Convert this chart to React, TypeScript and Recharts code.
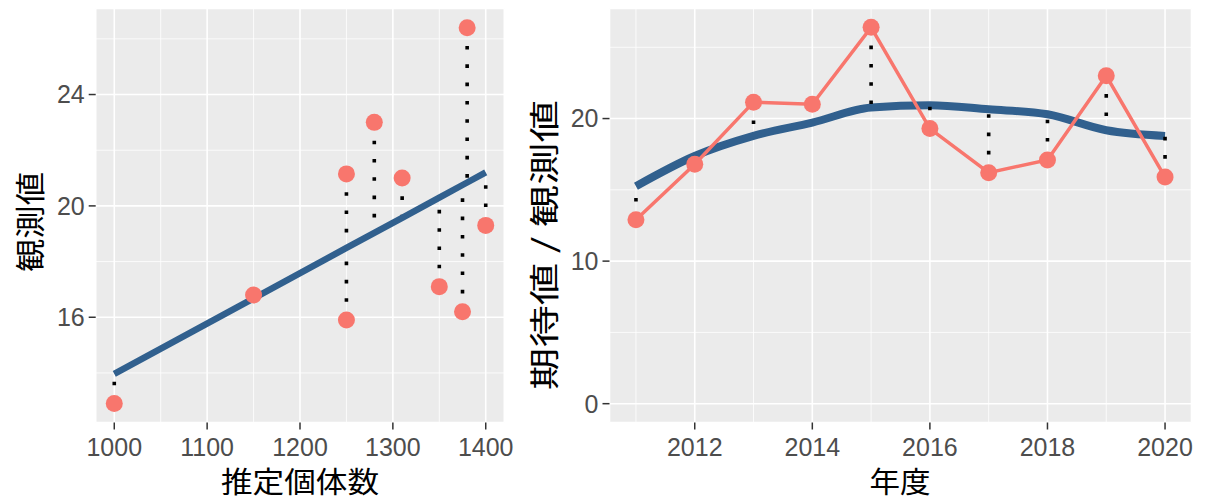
import {
  ComposedChart,
  Scatter,
  Line,
  XAxis,
  YAxis,
  CartesianGrid,
  ReferenceLine,
} from "recharts";

// 年度ごとの値
const years = [2011, 2012, 2013, 2014, 2015, 2016, 2017, 2018, 2019, 2020];
const estimated = [1000, 1150, 1250, 1310, 1380, 1400, 1375, 1350, 1280, 1250];
const observed = [12.9, 16.8, 21.15, 21.0, 26.4, 19.3, 16.2, 17.1, 23.0, 15.9];
// 左図: 回帰直線上の値
const fittedLm = [13.97, 16.68, 18.49, 19.57, 20.84, 21.2, 20.75, 20.3, 19.03, 18.49];
// 右図: 期待値
const expected = [15.25, 17.37, 18.78, 19.72, 20.77, 20.94, 20.65, 20.3, 19.18, 18.78];

const estTicks = [1000, 1100, 1200, 1300, 1400];
const estMinor = [1050, 1150, 1250, 1350];
const obsTicks = [16, 20, 24];
const obsMinor = [14, 18, 22, 26];
const yearTicks = [2012, 2014, 2016, 2018, 2020];
const yearMinor = [2011, 2013, 2015, 2017, 2019];
const valueTicks = [0, 10, 20];
const valueMinor = [5, 15, 25];

const RED = "#F8766D";
const BLUE = "#31608E";
const PANEL = "#EBEBEB";
const TICK_FONT = { fill: "#4D4D4D", fontSize: 25, fontFamily: "Liberation Sans, Arial, sans-serif" };
const JP = "'Noto Sans CJK JP', sans-serif";
const DOTS = { stroke: "#000", strokeWidth: 3.6, strokeDasharray: "3.6 14.7" };

const points = estimated.map((x, i) => ({ x, y: observed[i] }));
const lmLine = estimated
  .map((x, i) => ({ x, y: fittedLm[i] }))
  .sort((a, b) => a.x - b.x);
const yearly = years.map((year, i) => ({ year, obs: observed[i], exp: expected[i] }));

const Dot = (p: any) => <circle cx={p.cx} cy={p.cy} r={8.5} fill={RED} />;

const YTitle = ({ text, cx, cy, len }: { text: string; cx: number; cy: number; len?: number }) => (
  <text
    x={cx}
    y={cy}
    transform={`rotate(-90, ${cx}, ${cy})`}
    textAnchor="middle"
    dominantBaseline="central"
    fontSize={30}
    fontFamily={JP}
    fill="#000"
    textLength={len}
    lengthAdjust={len ? "spacingAndGlyphs" : undefined}
  >
    {text}
  </text>
);

const XTitle = ({ text, cx, cy, len }: { text: string; cx: number; cy: number; len: number }) => (
  <text
    x={cx}
    y={cy}
    textAnchor="middle"
    dominantBaseline="central"
    fontSize={29}
    fontFamily={JP}
    fill="#000"
    textLength={len}
    lengthAdjust="spacingAndGlyphs"
  >
    {text}
  </text>
);

function LeftPanel() {
  return (
    <div style={{ position: "absolute", left: 0, top: 0 }}>
      <ComposedChart width={520} height={501} margin={{ top: 8.5, right: 15.7, bottom: 0, left: 0 }}>
        <CartesianGrid fill={PANEL} stroke="#fff" strokeWidth={1.6} />
        <CartesianGrid
          horizontalValues={obsMinor}
          verticalValues={estMinor}
          stroke="#fff"
          strokeWidth={0.8}
        />
        <XAxis
          type="number"
          dataKey="x"
          domain={[980, 1420]}
          ticks={estTicks}
          allowDataOverflow
          axisLine={false}
          tickSize={7}
          tickMargin={9}
          tickLine={{ stroke: "#333", strokeWidth: 1.5 }}
          tick={TICK_FONT}
          height={78.5}
          label={<XTitle text="推定個体数" cx={300} cy={480} len={158} />}
        />
        <YAxis
          type="number"
          dataKey="y"
          domain={[12.22, 27.09]}
          ticks={obsTicks}
          allowDataOverflow
          axisLine={false}
          tickSize={7}
          tickMargin={4}
          tickLine={{ stroke: "#333", strokeWidth: 1.5 }}
          tick={TICK_FONT}
          width={95.7}
          label={<YTitle text="観測値" cx={28} cy={222} len={100} />}
        />
        <Scatter
          data={lmLine}
          line={{ stroke: BLUE, strokeWidth: 6.5 }}
          shape={() => null}
          isAnimationActive={false}
        />
        {points.map((p, i) => (
          <ReferenceLine
            key={i}
            segment={[
              { x: p.x, y: p.y },
              { x: p.x, y: fittedLm[i] },
            ]}
            {...DOTS}
          />
        ))}
        <Scatter data={points} shape={Dot} isAnimationActive={false} />
      </ComposedChart>
    </div>
  );
}

function RightPanel() {
  return (
    <div style={{ position: "absolute", left: 520, top: 0 }}>
      <ComposedChart width={686} height={501} data={yearly} margin={{ top: 8.5, right: 14.5, bottom: 0, left: 0 }}>
        <CartesianGrid fill={PANEL} stroke="#fff" strokeWidth={1.6} />
        <CartesianGrid
          horizontalValues={valueMinor}
          verticalValues={yearMinor}
          stroke="#fff"
          strokeWidth={0.8}
        />
        <XAxis
          type="number"
          dataKey="year"
          domain={[2010.55, 2020.45]}
          ticks={yearTicks}
          allowDataOverflow
          axisLine={false}
          tickSize={7}
          tickMargin={9}
          tickLine={{ stroke: "#333", strokeWidth: 1.5 }}
          tick={TICK_FONT}
          height={78.5}
          label={<XTitle text="年度" cx={380} cy={480} len={61} />}
        />
        <YAxis
          type="number"
          domain={[-1.32, 27.72]}
          ticks={valueTicks}
          allowDataOverflow
          axisLine={false}
          tickSize={7}
          tickMargin={4}
          tickLine={{ stroke: "#333", strokeWidth: 1.5 }}
          tick={TICK_FONT}
          width={89.5}
          label={<YTitle text="期待値 / 観測値" cx={22} cy={245} len={290} />}
        />
        <Line
          type="monotone"
          dataKey="exp"
          stroke={BLUE}
          strokeWidth={8}
          dot={false}
          activeDot={false}
          isAnimationActive={false}
        />
        {yearly.map((d) => (
          <ReferenceLine
            key={d.year}
            segment={[
              { x: d.year, y: d.obs },
              { x: d.year, y: d.exp },
            ]}
            {...DOTS}
          />
        ))}
        <Line
          type="linear"
          dataKey="obs"
          stroke={RED}
          strokeWidth={3.5}
          dot={{ r: 8.5, fill: RED, stroke: RED, strokeWidth: 0 }}
          activeDot={false}
          isAnimationActive={false}
        />
      </ComposedChart>
    </div>
  );
}

export default function App() {
  return (
    <div style={{ position: "absolute", left: 0, top: 0, width: 1206, height: 501, background: "#fff" }}>
      <LeftPanel />
      <RightPanel />
    </div>
  );
}
